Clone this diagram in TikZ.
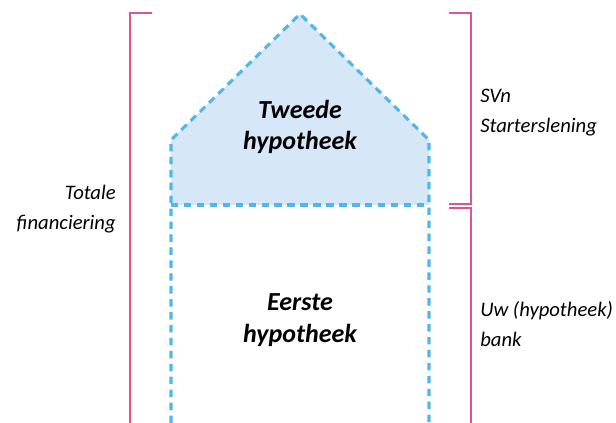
\documentclass[tikz,border=0pt]{standalone}
\usepackage{fontspec}
\setmainfont{Carlito}
\usetikzlibrary{positioning}

\definecolor{svnpink}{RGB}{221,84,144}
\definecolor{svnblue}{RGB}{82,182,232}
\definecolor{svnfill}{RGB}{214,231,247}

\tikzstyle{bracket} = [draw=svnpink, line width=1.2pt]
\tikzstyle{house} = [draw=svnblue, line width=2.3pt, dash pattern=on 5.6pt off 4.1pt]
\tikzstyle{side} = [inner sep=0pt, font=\fontsize{15.5pt}{22.5pt}\selectfont\itshape]
\tikzstyle{title} = [inner sep=0pt, align=center, font=\fontsize{19.5pt}{23.5pt}\selectfont\bfseries\itshape]

\begin{document}
\begin{tikzpicture}[x=.75pt,y=-.75pt,auto,node distance=1cm]
  \def\u{.75pt}
  \useasboundingbox (0,0) rectangle (616,423);

  % house
  \node [coordinate] (apex) at (300,14) {};
  \node [coordinate, below of=apex, node distance=126*\u] (eaves) {};
  \node [coordinate, left of=eaves, node distance=129*\u] (eavl) {};
  \node [coordinate, right of=eaves, node distance=129*\u] (eavr) {};
  \node [coordinate, below of=eavl, node distance=65*\u] (floorl) {};
  \node [coordinate, below of=eavr, node distance=65*\u] (floorr) {};
  \node [coordinate, below of=floorl, node distance=218*\u] (footl) {};
  \node [coordinate, below of=floorr, node distance=218*\u] (footr) {};

  % brackets
  \node [coordinate] (tot_t) at (130,13) {};
  \node [coordinate, right of=tot_t, node distance=22*\u] (tot_tr) {};
  \node [coordinate, below of=tot_t, node distance=410*\u] (tot_b) {};
  \node [coordinate, below of=tot_t, node distance=196*\u] (tot_m) {};

  \node [coordinate] (svn_t) at (471,13) {};
  \node [coordinate, left of=svn_t, node distance=22*\u] (svn_tl) {};
  \node [coordinate, below of=svn_t, node distance=191*\u] (svn_b) {};
  \node [coordinate, left of=svn_b, node distance=22*\u] (svn_bl) {};
  \node [coordinate, below of=svn_t, node distance=100*\u] (svn_m) {};

  \node [coordinate, below of=svn_b, node distance=4*\u] (bank_t) {};
  \node [coordinate, left of=bank_t, node distance=22*\u] (bank_tl) {};
  \node [coordinate, below of=bank_t, node distance=215*\u] (bank_b) {};
  \node [coordinate, below of=bank_t, node distance=116*\u] (bank_m) {};

  \fill [svnfill] (floorl) -- (eavl) -- (apex) -- (eavr) -- (floorr) -- cycle;
  \draw [house] (footl) -- (eavl) -- (apex) -- (eavr) -- (footr);
  \draw [house] (floorl) -- (floorr);

  \draw [bracket] (tot_tr) -- (tot_t) -- (tot_b);
  \draw [bracket] (svn_tl) -- (svn_t) -- (svn_b) -- (svn_bl);
  \draw [bracket] (bank_tl) -- (bank_t) -- (bank_b);

  \node [title] (tweede) at (300,127) {Tweede\\hypotheek};
  \node [title] (eerste) at (300,320) {Eerste\\hypotheek};

  \node [side, align=right, left=14*\u of tot_m] (totale) {Totale\\financiering};
  \node [side, align=left, right=9*\u of svn_m] (svn) {SVn\\Starterslening};
  \node [side, align=left, right=9*\u of bank_m] (bank) {Uw (hypotheek)\\bank};
\end{tikzpicture}
\end{document}
